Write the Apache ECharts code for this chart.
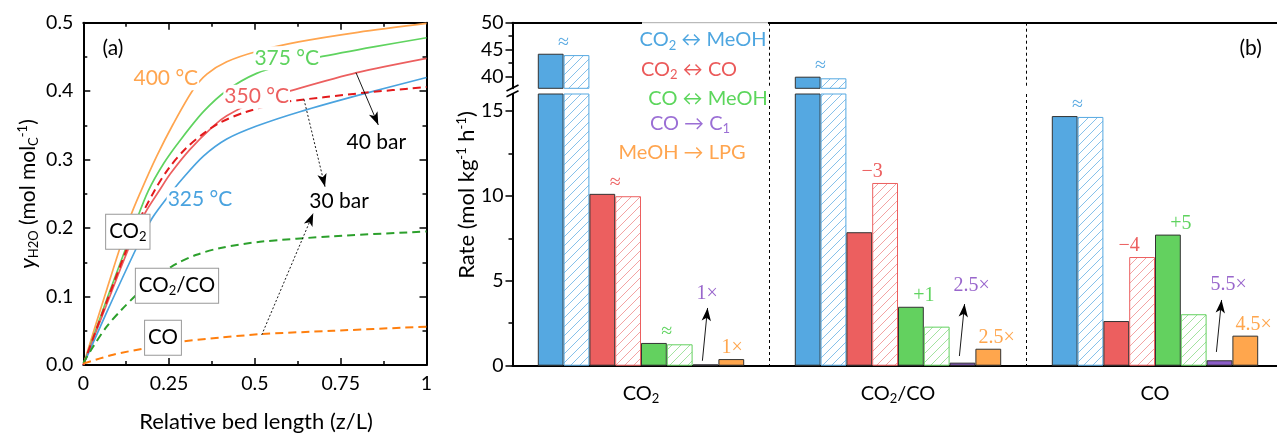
<!DOCTYPE html>
<html><head><meta charset="utf-8">
<script src="https://cdn.jsdelivr.net/npm/echarts@6/dist/echarts.min.js"></script>
<style>html,body{margin:0;padding:0;background:#fff}#c{width:1277px;height:434px}</style>
</head><body><div id="c"></div>
<script>
// ================= DATA =================
// Panel (a): y_H2O vs relative bed length  [z/L, y]
const solid400 = [[0,0],[0.07,0.113],[0.136,0.215],[0.168,0.254],[0.214,0.305],[0.262,0.352],[0.32,0.402],[0.36,0.425],[0.418,0.443],[0.505,0.458],[0.627,0.472],[0.8,0.486],[1,0.499]];
const solid375 = [[0,0],[0.07,0.098],[0.15,0.205],[0.189,0.254],[0.235,0.295],[0.282,0.328],[0.35,0.37],[0.418,0.401],[0.505,0.426],[0.6,0.44],[0.68,0.449],[0.85,0.465],[1,0.478]];
const solid350 = [[0,0],[0.07,0.091],[0.136,0.175],[0.18,0.222],[0.223,0.256],[0.253,0.279],[0.311,0.315],[0.379,0.349],[0.418,0.364],[0.5,0.385],[0.593,0.399],[0.797,0.427],[1,0.448]];
const dashed350 = [[0,0],[0.07,0.095],[0.15,0.198],[0.209,0.256],[0.25,0.288],[0.3,0.317],[0.35,0.338],[0.398,0.354],[0.476,0.37],[0.588,0.384],[0.7,0.391],[0.826,0.398],[1,0.406]];
const solid325 = [[0,0],[0.07,0.079],[0.156,0.172],[0.2,0.214],[0.253,0.25],[0.287,0.271],[0.35,0.305],[0.418,0.33],[0.505,0.349],[0.631,0.37],[0.816,0.396],[1,0.42]];
const dashedCO2CO = [[0,0.003],[0.029,0.027],[0.068,0.056],[0.11,0.08],[0.156,0.103],[0.214,0.129],[0.272,0.148],[0.33,0.161],[0.4,0.171],[0.515,0.18],[0.728,0.188],[1,0.195]];
const dashedCO = [[0,0.002],[0.087,0.015],[0.185,0.025],[0.282,0.034],[0.4,0.04],[0.515,0.045],[0.728,0.05],[1,0.056]];

// Panel (b): rates (mol kg-1 h-1) per feed
const feeds = ['CO2', 'CO2/CO', 'CO'];
const feedLabels = ['CO{s|2}', 'CO{s|2}/CO', 'CO'];
const co2MeohSolid = [44.25, 40.0, 14.70];
const co2MeohHatch = [44.0, 39.7, 14.65];
const co2CoSolid   = [10.12, 7.86, 2.63];
const co2CoHatch   = [9.98, 10.76, 6.40];
const coMeohSolid  = [1.34, 3.47, 7.72];
const coMeohHatch  = [1.26, 2.30, 3.03];
const coC1Solid    = [0.08, 0.18, 0.32];
const meohLpgSolid = [0.39, 1.00, 1.77];
const lowerTicks = [0, 5, 10, 15];
const lowerMinor = [2.5, 7.5, 12.5];
const upperTicks = [40, 45, 50];
const upperMinor = [42.5, 47.5];

// annotation texts
const pairMarks = [['≈','≈','≈'], ['≈','−3','+1'], ['≈','−4','+5']];
const c1Marks = ['1×', '2.5×', '5.5×'];
const lpgMarks = ['1×', '2.5×', '4.5×'];

// ================= STYLE / LAYOUT =================
const FONT = 'Lato', SERIF = 'Liberation Serif';
const BW = 25.8;
const C = {
  blue:'#55a8e1', blueH:'#86c1ea', red:'#ec5f5f', redH:'#f3a3a3', green:'#63d15f', greenH:'#a3e3a0',
  purple:'#8b5cc8', orange:'#ffa64d',
  l400:'#ffa54f', l375:'#5fd35f', l350:'#ec5f5f', l325:'#4aa3df', d350:'#e31a1c', dMix:'#2ca02c', dCO:'#ff7f0e'
};
const markColors = ['#5aaae2', '#ec5f5f', '#5fd35f'];
// annotation placement (data units of the respective axes)
const tempLabels = [
  {t:'400 °C', x:0.2404, y:0.4188, c:C.l400}, {t:'375 °C', x:0.5927, y:0.448, c:C.l375},
  {t:'350 °C', x:0.5052, y:0.392, c:C.l350}, {t:'325 °C', x:0.34, y:0.242, c:C.l325}];
const boxLabels = [{t:'CO{s|2}', x:0.1297, y:0.1946}, {t:'CO{s|2}/CO', x:0.273, y:0.1157}, {t:'CO', x:0.2322, y:0.0399}];
const barLabels = [{t:'40 bar', x:0.854, y:0.326}, {t:'30 bar', x:0.745, y:0.2385}];
const arrowsA = [
  {f:[0.7946,0.427], e:[0.8596,0.3506], type:'solid'},
  {f:[0.643,0.388], e:[0.7043,0.2604], type:[2,2]},
  {f:[0.5198,0.0438], e:[0.670,0.2216], type:[2,2]}];
const c1LabelLevel = [4.22, 4.69, 4.75];
const c1ArrowFrom = [0.29, 0.57, 0.81];
const c1ArrowTo = [3.4, 3.63, 3.87];

function hatch(color) {
  const s = 9, cv = document.createElement('canvas'); cv.width = s; cv.height = s;
  const g = cv.getContext('2d');
  g.fillStyle = '#fff'; g.fillRect(0, 0, s, s);
  g.strokeStyle = color; g.lineWidth = 1;
  g.beginPath();
  g.moveTo(0, s); g.lineTo(s, 0);
  g.moveTo(-2, 2); g.lineTo(2, -2);
  g.moveTo(s - 2, s + 2); g.lineTo(s + 2, s - 2);
  g.stroke();
  return {image: cv, repeat: 'repeat'};
}

const rich = {
  s: {fontSize: 13, fontFamily: FONT, lineHeight: 12, verticalAlign: 'bottom'},
  p: {fontSize: 13, fontFamily: FONT, lineHeight: 12, verticalAlign: 'top'},
  i: {fontSize: 22, fontFamily: FONT, fontStyle: 'italic', lineHeight: 24}
};
const axLine = {show: true, onZero: false, lineStyle: {color: '#000', width: 2}};
const tickStyle = {color: '#000', width: 1.5};
const lbl = {color: '#000', fontSize: 19.5, fontFamily: FONT};

function lineSeries(data, color, dashed, id) {
  return {type: 'line', id, xAxisIndex: 0, yAxisIndex: 0, data, showSymbol: false, symbol: 'none',
    smooth: 0.3, silent: true, z: dashed ? 3 : 2,
    lineStyle: {color, width: dashed ? 2 : 1.7, type: dashed ? [8, 5] : 'solid'}};
}

const barDefs = [
  {id:'bS', data: co2MeohSolid, color: C.blue, border: '#333'},
  {id:'bH', data: co2MeohHatch, color: hatch(C.blueH), border: C.blue},
  {id:'rS', data: co2CoSolid, color: C.red, border: '#333'},
  {id:'rH', data: co2CoHatch, color: hatch(C.redH), border: C.red},
  {id:'gS', data: coMeohSolid, color: C.green, border: '#333'},
  {id:'gH', data: coMeohHatch, color: hatch(C.greenH), border: C.green},
  {id:'pS', data: coC1Solid, color: C.purple, border: '#333'},
  {id:'oS', data: meohLpgSolid, color: C.orange, border: '#333'}
];
function barSeries(xi, yi, suffix) {
  return barDefs.map(d => ({type: 'bar', id: d.id + suffix, xAxisIndex: xi, yAxisIndex: yi, data: d.data,
    barWidth: BW, barGap: '0%', silent: true, clip: true,
    itemStyle: {color: d.color, borderColor: d.border, borderWidth: 1}}));
}

const option = {
  animation: false,
  backgroundColor: '#fff',
  textStyle: {fontFamily: FONT},
  grid: [
    {left: 83.3, top: 22.7, width: 343.2, height: 342.3, containLabel: false, outerBoundsMode: 'none'},
    {left: 512.5, top: 22.7, width: 771, height: 65.6, containLabel: false, outerBoundsMode: 'none'},
    {left: 512.5, top: 94, width: 771, height: 271.7, containLabel: false, outerBoundsMode: 'none'}
  ],
  xAxis: [
    {gridIndex: 0, type: 'value', min: 0, max: 1, interval: 0.25, position: 'bottom', axisLine: axLine,
      axisTick: {show: true, inside: true, length: 7, lineStyle: tickStyle},
      minorTick: {show: true, splitNumber: 2, length: 4, lineStyle: tickStyle},
      axisLabel: Object.assign({margin: 9, formatter: v => String(v)}, lbl), splitLine: {show: false}},
    {gridIndex: 0, type: 'value', min: 0, max: 1, interval: 0.25, position: 'top', axisLine: axLine,
      axisTick: {show: true, inside: true, length: 7, lineStyle: tickStyle},
      minorTick: {show: true, splitNumber: 2, length: 4, lineStyle: tickStyle},
      axisLabel: {show: false}, splitLine: {show: false}},
    {gridIndex: 1, type: 'category', data: feeds, position: 'top', axisLine: axLine,
      axisTick: {show: false}, axisLabel: {show: false},
      splitLine: {show: true, interval: 0, lineStyle: {color: '#000', width: 1, type: [3, 3]}}},
    {gridIndex: 2, type: 'category', data: feeds, position: 'bottom', axisLine: axLine,
      axisTick: {show: false},
      axisLabel: Object.assign({margin: 16, interval: 0, lineHeight: 24, formatter: (v, i) => feedLabels[i], rich: rich}, lbl, {fontSize: 20}),
      splitLine: {show: true, interval: 0, lineStyle: {color: '#000', width: 1, type: [3, 3]}}}
  ],
  yAxis: [
    {gridIndex: 0, type: 'value', min: 0, max: 0.5, interval: 0.1, position: 'left', axisLine: axLine,
      axisTick: {show: true, inside: true, length: 7, lineStyle: tickStyle},
      minorTick: {show: true, splitNumber: 2, length: 4, lineStyle: tickStyle},
      axisLabel: Object.assign({margin: 10, formatter: v => v.toFixed(1)}, lbl), splitLine: {show: false}},
    {gridIndex: 0, type: 'value', min: 0, max: 0.5, interval: 0.1, position: 'right', axisLine: axLine,
      axisTick: {show: true, inside: true, length: 7, lineStyle: tickStyle},
      minorTick: {show: true, splitNumber: 2, length: 4, lineStyle: tickStyle},
      axisLabel: {show: false}, splitLine: {show: false}},
    {gridIndex: 1, type: 'value', min: 37.85, max: 50, position: 'left', axisLine: axLine,
      axisTick: {show: true, inside: false, length: 7, lineStyle: tickStyle, customValues: upperTicks},
      axisLabel: Object.assign({margin: 9, customValues: upperTicks}, lbl), splitLine: {show: false}},
    {gridIndex: 1, type: 'value', min: 37.85, max: 50, position: 'right', offset: -771, axisLine: {show: false},
      axisTick: {show: true, inside: true, length: 4, lineStyle: tickStyle, customValues: upperMinor},
      axisLabel: {show: false}, splitLine: {show: false}},
    {gridIndex: 2, type: 'value', min: 0, max: 16, position: 'left', axisLine: axLine,
      axisTick: {show: true, inside: false, length: 7, lineStyle: tickStyle, customValues: lowerTicks},
      axisLabel: Object.assign({margin: 9, customValues: lowerTicks}, lbl), splitLine: {show: false}},
    {gridIndex: 2, type: 'value', min: 0, max: 16, position: 'right', offset: -771, axisLine: {show: false},
      axisTick: {show: true, inside: true, length: 4, lineStyle: tickStyle, customValues: lowerMinor},
      axisLabel: {show: false}, splitLine: {show: false}}
  ],
  series: [
    lineSeries(solid400, C.l400, false, 'l400'),
    lineSeries(solid375, C.l375, false, 'l375'),
    lineSeries(solid350, C.l350, false, 'l350'),
    lineSeries(solid325, C.l325, false, 'l325'),
    lineSeries(dashed350, C.d350, true, 'd350'),
    lineSeries(dashedCO2CO, C.dMix, true, 'dMix'),
    lineSeries(dashedCO, C.dCO, true, 'dCO')
  ].concat(barSeries(2, 2, 'U'), barSeries(3, 4, 'L'))
};

const chart = echarts.init(document.getElementById('c'));
chart.setOption(option);

// ================= ANNOTATIONS =================
const pA = (x, y) => chart.convertToPixel({xAxisIndex: 0, yAxisIndex: 0}, [x, y]);
const catX = i => chart.convertToPixel({xAxisIndex: 3}, i);
const yB = v => v > 16 ? chart.convertToPixel({yAxisIndex: 2}, v) : chart.convertToPixel({yAxisIndex: 4}, v);
const slotX = (cat, k) => catX(cat) + (k - 3.5) * BW;

function txt(x, y, text, o) {
  o = o || {};
  return {type: 'text', x, y, z: 100, rotation: o.rot || 0, silent: true,
    style: Object.assign({text, fill: o.fill || '#000', fontSize: o.fs || 19.5, fontFamily: o.ff || FONT,
      align: o.align || 'center', verticalAlign: o.va || 'middle',
      textAlign: o.align || 'center', textVerticalAlign: o.va || 'middle',
      lineHeight: o.lh || 24, rich}, o.extra || {})};
}

const G = [];
// legend box
G.push({type: 'rect', z: 60, silent: true, shape: {x: 642, y: 21, width: 126, height: 140}, style: {fill: '#fff'}});
G.push({type: 'line', z: 61, silent: true, shape: {x1: 642, y1: 22.7, x2: 768, y2: 22.7}, style: {stroke: '#aaa', lineWidth: 1}});
const legendLines = [
  {t: 'CO{s|2} ↔ MeOH', c: '#4ea6e0', x: 703, y: 40},
  {t: 'CO{s|2} ↔ CO', c: '#eb5a5a', x: 689, y: 69.5},
  {t: 'CO ↔ MeOH', c: '#5cd65c', x: 708, y: 98.5},
  {t: 'CO → C{s|1}', c: '#9b6fd5', x: 690, y: 123.5},
  {t: 'MeOH → LPG', c: '#ffa54f', x: 682, y: 152.5}
];
legendLines.forEach(l => G.push(txt(l.x, l.y, l.t, {fill: l.c, fs: 20})));
G.push(txt(1250.7, 48, '(b)', {fs: 21}));
G.push(txt(113, 48, '(a)', {fs: 21}));
// axis titles
G.push(txt(256, 422, 'Relative bed length (z/L)', {fs: 22}));
G.push(txt(28, 194, '{i|y}{s|H2O} (mol mol{s|C}{p|-1})', {fs: 21, rot: Math.PI / 2}));
G.push(txt(467, 195, 'Rate (mol kg{p|-1} h{p|-1})', {fs: 22, rot: Math.PI / 2}));
// axis break marks
[[88.0], [93.8]].forEach(([yy]) => G.push({type: 'line', z: 70, silent: true,
  shape: {x1: 506.5, y1: yy + 3, x2: 518.5, y2: yy - 3}, style: {stroke: '#000', lineWidth: 1.8}}));

// panel (a) labels
tempLabels.forEach(l => { const p = pA(l.x, l.y); G.push(txt(p[0], p[1], l.t, {fill: l.c, fs: 21, extra: {backgroundColor: '#fff', padding: [0, 1]}})); });
barLabels.forEach(l => { const p = pA(l.x, l.y); G.push(txt(p[0], p[1], l.t, {fs: 21})); });
boxLabels.forEach(l => { const p = pA(l.x, l.y); G.push(txt(p[0], p[1], l.t, {fs: 20.5, extra: {backgroundColor: '#fff', borderColor: '#999', borderWidth: 1, padding: [5, 3, 5, 3]}})); });

// panel (b) labels
feeds.forEach((f, ci) => {
  const pairs = [[co2MeohSolid, co2MeohHatch], [co2CoSolid, co2CoHatch], [coMeohSolid, coMeohHatch]];
  pairs.forEach((pr, p) => {
    const top = Math.max(pr[0][ci], pr[1][ci]);
    G.push(txt(slotX(ci, 2 * p) + BW / 2, yB(top) - 1, pairMarks[ci][p], {fill: markColors[p], ff: SERIF, fs: 20, va: 'bottom', lh: 20}));
  });
  G.push(txt(slotX(ci, 6) - BW / 2 + 4, yB(c1LabelLevel[ci]), c1Marks[ci], {fill: '#9966cc', ff: SERIF, fs: 20, align: 'left', lh: 20}));
  G.push(txt(slotX(ci, 7) - BW / 2 + 3, yB(meohLpgSolid[ci]) - 1, lpgMarks[ci], {fill: C.orange, ff: SERIF, fs: 20, align: 'left', va: 'bottom', lh: 20}));
});

const arrowB = feeds.map((f, ci) => [
  {x: slotX(ci, 6) - 0.12 * BW, y: yB(c1ArrowFrom[ci])},
  {x: slotX(ci, 6) + 0.08 * BW, y: yB(c1ArrowTo[ci])}]);

chart.setOption({
  graphic: {elements: G},
  series: [
    {id: 'l325', markLine: {silent: true, animation: false, symbol: ['none', 'arrow'], symbolSize: [7, 13],
      label: {show: false}, emphasis: {disabled: true},
      data: arrowsA.map(a => [
        {coord: a.f, lineStyle: {color: '#000', width: 0.9, type: a.type}},
        {coord: a.e, lineStyle: {color: '#000', width: 0.9, type: a.type}}])}},
    {id: 'pSL', markLine: {silent: true, animation: false, symbol: ['none', 'arrow'], symbolSize: [7, 13],
      label: {show: false}, emphasis: {disabled: true}, lineStyle: {color: '#000', width: 0.9, type: 'solid'},
      data: arrowB}}
  ]
});
</script></body></html>
